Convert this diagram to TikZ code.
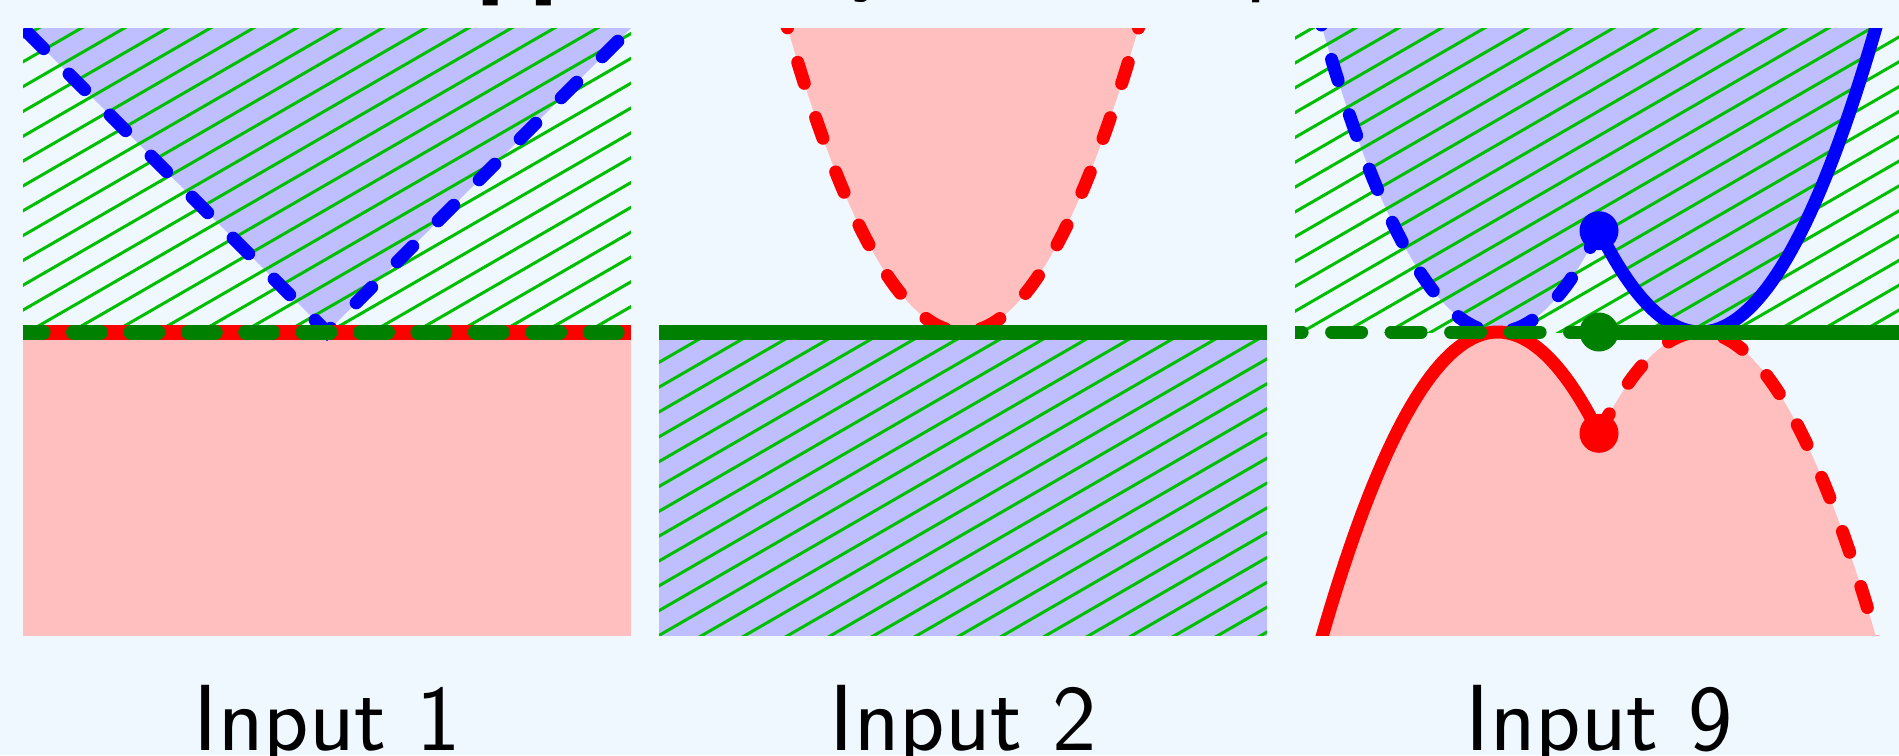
\documentclass[tikz,border=0pt]{standalone}
\usepackage{tikz}
\definecolor{bg}{RGB}{240,248,255}
\definecolor{lblue}{RGB}{191,191,255}
\definecolor{lpink}{RGB}{255,191,191}
\definecolor{hgreen}{RGB}{0,190,0}
\definecolor{dgreen}{RGB}{0,128,0}
\newcommand\hatchlines[1]{%
  \foreach \k in {-22,...,22} {\draw[hatch] ({#1+0.4245*\k-7},{-7*0.57735}) -- ({#1+0.4245*\k+7},{7*0.57735});}}
\tikzset{
  hatch/.style={hgreen, line width=1.5pt},
  curve/.style={line width=6.5pt, line cap=round},
  dashc/.style={curve, dash pattern=on 11pt off 18pt},
  axisline/.style={line width=7.5pt},
  dashaxis/.style={axisline, dgreen, line cap=round},
  dot/.style={circle, inner sep=0pt, minimum size=19.5pt},
  lab/.style={font=\fontsize{47}{50}\selectfont\sffamily, anchor=base, inner sep=0pt},
  panel/.style={x=50.65pt, y=50.65pt}
}
\begin{document}
\begin{tikzpicture}
\fill[bg] (0,0) rectangle (949.5pt,-377.5pt);
\useasboundingbox (0,0) rectangle (949.5pt,-377.5pt);

% title fragments (cut off at the top edge)
\node[lab] (t1) at (258.75pt,9pt) {[f]};
\node[lab] (t2) at (436pt,8.5pt) {y};
\node[lab] (t3) at (634pt,8pt) {p};

% ---------- panel 1 ----------
\begin{scope}[shift={(163.5pt,-166pt)}, panel]
  \begin{scope}
    \clip (-3,0) rectangle (3,3);
    \fill[lblue] (-3.3,3.3) -- (0,0) -- (3.3,3.3) -- cycle;
    \hatchlines{0.02}
  \end{scope}
  \fill[lpink] (-3,-3) rectangle (3,0);
  \begin{scope}
    \clip (-3,-3) rectangle (3,3);
    \draw[dashc, blue, dash phase=4pt] (-3.3,3.3) -- (0,0) -- (3.3,3.3);
    \draw[axisline, red] (-3,0) -- (3,0);
    \draw[dashaxis, dash pattern=on 13.5pt off 15.2pt, dash phase=3.5pt] (-3,0) -- (3,0);
  \end{scope}
\end{scope}

% ---------- panel 2 ----------
\begin{scope}[shift={(481.5pt,-166pt)}, panel]
  \begin{scope}
    \clip (-3,-3) rectangle (3,3);
    \fill[lpink] plot[domain=-1.8:1.8, samples=80] (\x,{(\x)*(\x)}) -- cycle;
    \begin{scope}
      \clip (-3,-3) rectangle (3,0);
      \fill[lblue] (-3,-3) rectangle (3,0);
      \hatchlines{0.065}
    \end{scope}
    \clip (-3,0) rectangle (3,3);
    \draw[dashc, red, dash phase=27.5pt] plot[domain=-1.8:1.8, samples=80] (\x,{(\x)*(\x)});
  \end{scope}
  \draw[axisline, dgreen] (-3,0) -- (3,0);
\end{scope}

% ---------- panel 3 ----------
\begin{scope}[shift={(799.5pt,-166pt)}, panel]
  \begin{scope}
    \clip (-3,-3) rectangle (3,3);
    \begin{scope}
      \clip (-3,0) rectangle (3,3);
      \fill[lblue] plot[domain=-2.8:0, samples=60] (\x,{(\x+1)*(\x+1)})
        -- plot[domain=0:2.8, samples=60] (\x,{(\x-1)*(\x-1)}) -- cycle;
      \hatchlines{0.04}
    \end{scope}
    \fill[lpink] plot[domain=-2.8:0, samples=60] (\x,{-1*(\x+1)*(\x+1)})
      -- plot[domain=0:2.8, samples=60] (\x,{-1*(\x-1)*(\x-1)}) -- cycle;
    \draw[dashc, blue] plot[domain=-2.8:0, samples=60] (\x,{(\x+1)*(\x+1)});
    \draw[curve, blue] plot[domain=0:2.8, samples=60] (\x,{(\x-1)*(\x-1)});
    \draw[curve, red] plot[domain=-2.8:0, samples=60] (\x,{-1*(\x+1)*(\x+1)});
    \draw[dashc, red] plot[domain=0:2.8, samples=60] (\x,{-1*(\x-1)*(\x-1)});
    \draw[dashaxis, line width=6.5pt, dash pattern=on 15pt off 14.75pt, dash phase=11.5pt] (-3,0) -- (0,0);
    \draw[axisline, dgreen] (0,0) -- (3,0);
  \end{scope}
  \node[dot, fill=blue] (bdot) at (0,1) {};
  \node[dot, fill=dgreen] (gdot) at (0,0) {};
  \node[dot, fill=red] (rdot) at (0,-1) {};
\end{scope}

% ---------- labels ----------
\node[lab] (lab1) at (163.5pt,-375pt) {Input 1};
\node[lab] (lab2) at (481.5pt,-375pt) {Input 2};
\node[lab] (lab3) at (799.5pt,-375pt) {Input 9};
\end{tikzpicture}
\end{document}
